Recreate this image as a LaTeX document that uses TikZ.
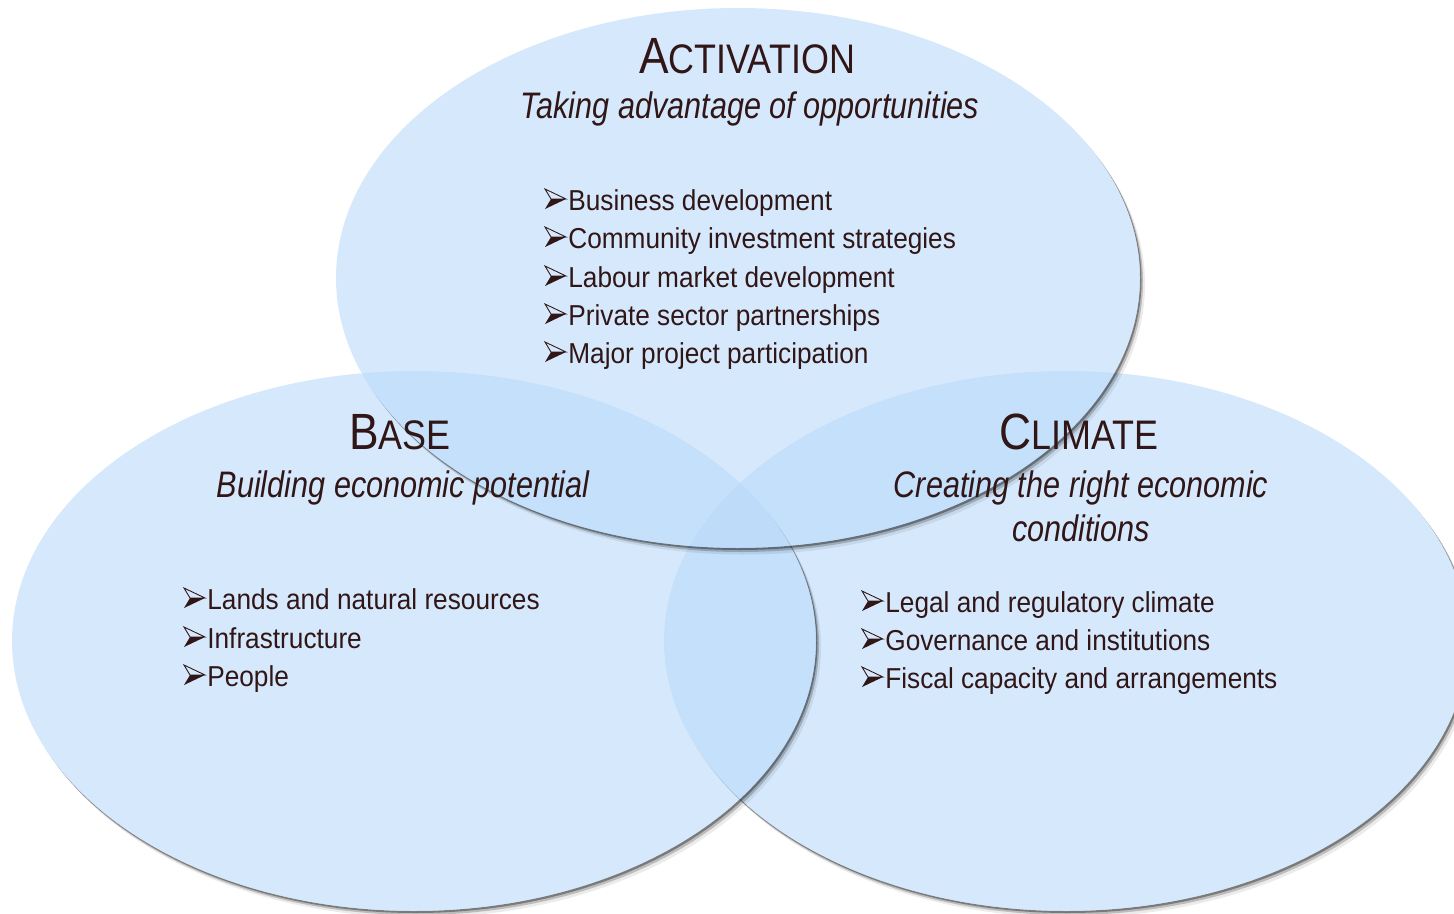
\documentclass[tikz,border=0pt]{standalone}
\usepackage{fontspec}
\setmainfont[FakeStretch=0.83]{Liberation Sans}
\newfontfamily\pointfont[FakeStretch=0.91]{Liberation Sans}
\newfontfamily\titlefont[FakeStretch=0.87]{Liberation Sans}
\usepackage{tikz}
\usetikzlibrary{positioning}
\definecolor{vennblue}{RGB}{185,217,250}
\definecolor{txtbrown}{RGB}{48,22,22}
\newcommand{\capword}[2]{{\titlefont\fontsize{29}{32}\selectfont #1}{\titlefont\fontsize{23.5}{26}\selectfont #2}}
\newcommand{\vennpart}[1]{%
  \begin{scope}[even odd rule]
    \clip (-20,-20) rectangle (1480,940) (#1) ellipse [x radius=402, y radius=270];
    \fill[shade3] ([shift={(5,6.5)}]#1) ellipse [x radius=402, y radius=270];
    \fill[shade2] ([shift={(3,4)}]#1) ellipse [x radius=402, y radius=270];
    \fill[shade1] ([shift={(1.5,2)}]#1) ellipse [x radius=402, y radius=270];
  \end{scope}
  \fill[venn] (#1) ellipse [x radius=402, y radius=270];}
\tikzset{
    arrowmark/.pic={
        \fill[txtbrown] (0,0) -- (21,-10) -- (6,-10) -- cycle;
        \draw[txtbrown, line width=0.5pt, line join=miter] (0,-20) -- (21,-10) -- (6,-10) -- cycle;
    }
}

\begin{document}
\begin{tikzpicture}[x=0.02cm,
                    y=-0.02cm,
                    venn/.style={fill=vennblue, fill opacity=0.58},
                    shade1/.style={fill=black, fill opacity=0.35},
                    shade2/.style={fill=black, fill opacity=0.2},
                    shade3/.style={fill=black, fill opacity=0.08},
                    title/.style={text=txtbrown, anchor=base, inner sep=0pt},
                    sub/.style={text=txtbrown, anchor=base, inner sep=0pt, font=\fontsize{21}{26}\selectfont\itshape},
                    point/.style={text=txtbrown, anchor=base west, inner sep=0pt, font=\pointfont\fontsize{16.4}{20}\selectfont}
                    ]
\useasboundingbox (0,0) rectangle (1454,913);

% circles
\coordinate (1) at (1066,641);
\coordinate (2) at (414,641);
\coordinate (3) at (738,278);
\vennpart{1}
\vennpart{2}
\vennpart{3}

% Activation
\node[title] (4) at (747,73) {\capword{A}{CTIVATION}};
\node[sub] (5) at (750,118) {Taking advantage of opportunities};
\node[point] (6) at (568,210) {Business development};
\node[point] (7) at (568,248) {Community investment strategies};
\node[point] (8) at (568,287) {Labour market development};
\node[point] (9) at (568,325) {Private sector partnerships};
\node[point] (10) at (568,363) {Major project participation};

% Base
\node[title] (11) at (400,449) {\capword{B}{ASE}};
\node[sub] (12) at (403,497) {Building economic potential};
\node[point] (13) at (207,609) {Lands and natural resources};
\node[point] (14) at (207,648) {Infrastructure};
\node[point] (15) at (207,686) {People};

% Climate
\node[title] (16) at (1079,449) {\capword{C}{LIMATE}};
\node[sub] (17) at (1081,497) {Creating the right economic};
\node[sub] (18) at (1081,541) {conditions};
\node[point] (19) at (885,612) {Legal and regulatory climate};
\node[point] (20) at (885,650) {Governance and institutions};
\node[point] (21) at (885,688) {Fiscal capacity and arrangements};

% bullets
\pic at ([shift={(-23,-1)}]6.base west) {arrowmark};
\pic at ([shift={(-23,-1)}]7.base west) {arrowmark};
\pic at ([shift={(-23,-1)}]8.base west) {arrowmark};
\pic at ([shift={(-23,-1)}]9.base west) {arrowmark};
\pic at ([shift={(-23,-1)}]10.base west) {arrowmark};
\pic at ([shift={(-23,-1)}]13.base west) {arrowmark};
\pic at ([shift={(-23,-1)}]14.base west) {arrowmark};
\pic at ([shift={(-23,-1)}]15.base west) {arrowmark};
\pic at ([shift={(-23,-1)}]19.base west) {arrowmark};
\pic at ([shift={(-23,-1)}]20.base west) {arrowmark};
\pic at ([shift={(-23,-1)}]21.base west) {arrowmark};
\end{tikzpicture}
\end{document}
